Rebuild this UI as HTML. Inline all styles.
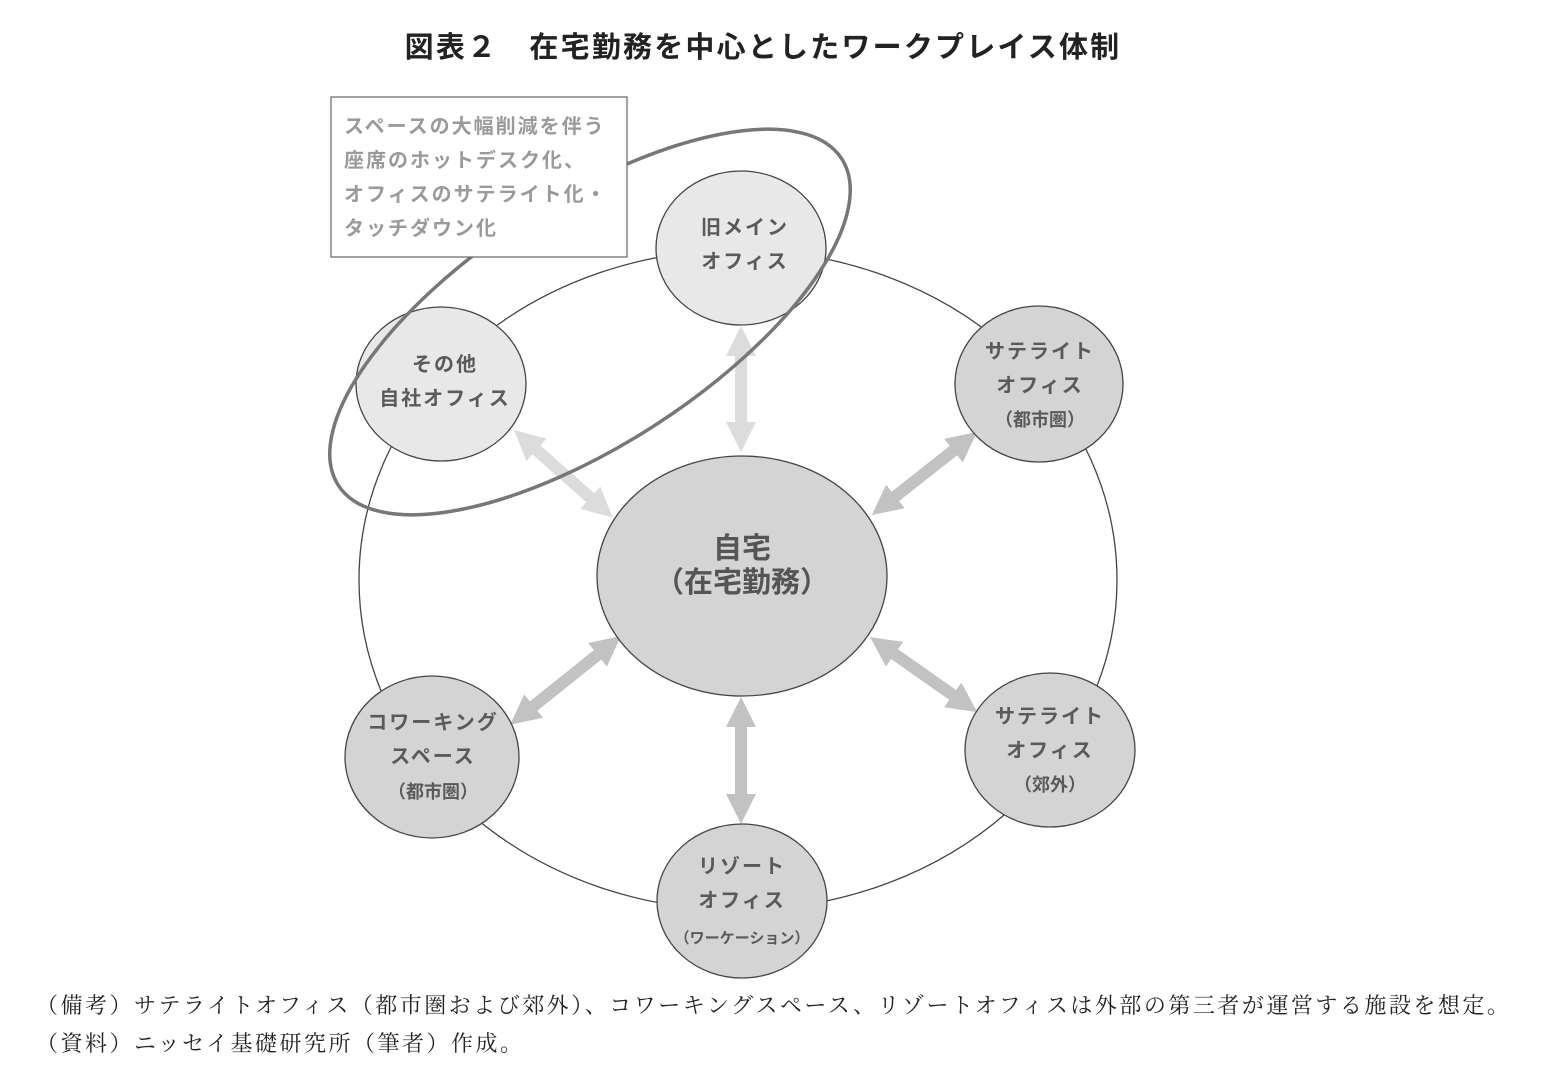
<!DOCTYPE html>
<html><head><meta charset="utf-8"><style>
html,body{margin:0;padding:0;background:#fff;}
svg{display:block;}
text{font-family:"Liberation Sans","Noto Sans CJK JP",sans-serif;}
.n{font-size:20px;font-weight:bold;fill:#5a5a5a;text-anchor:middle;letter-spacing:2px;}
.s{font-size:18px;font-weight:bold;fill:#5a5a5a;text-anchor:middle;}
.b{font-size:20px;font-weight:bold;fill:#9a9a9a;letter-spacing:2px;}
.f{font-family:"Liberation Serif","Noto Serif CJK JP",serif;font-size:22px;fill:#222;letter-spacing:2.5px;}
</style></head><body>
<svg width="1543" height="1087" viewBox="0 0 1543 1087" xmlns="http://www.w3.org/2000/svg">
<text x="763" y="57" text-anchor="middle" style="font-size:29px;font-weight:bold;fill:#222;letter-spacing:2.2px">図表２　在宅勤務を中心としたワークプレイス体制</text>

<ellipse cx="738" cy="580" rx="379" ry="330" fill="none" stroke="#444" stroke-width="1.3"/>

<g fill="#dcdcdc">
<polygon transform="translate(741,326) rotate(90)" points="0,0 30,-15 30,-6 96,-6 96,-15 126,0 96,15 96,6 30,6 30,15"/>
<polygon transform="translate(514,430) rotate(41.6)" points="0,0 30,-15 30,-6 102,-6 102,-15 132,0 102,15 102,6 30,6 30,15"/>
</g>
<g fill="#c2c2c2">
<polygon transform="translate(977,432) rotate(141.7)" points="0,0 30,-15 30,-6 104,-6 104,-15 134,0 104,15 104,6 30,6 30,15"/>
<polygon transform="translate(621,636) rotate(141.3)" points="0,0 30,-15 30,-6 112,-6 112,-15 142,0 112,15 112,6 30,6 30,15"/>
<polygon transform="translate(870,637) rotate(35)" points="0,0 30,-15 30,-6 101,-6 101,-15 131,0 101,15 101,6 30,6 30,15"/>
<polygon transform="translate(741,697) rotate(90)" points="0,0 30,-15 30,-6 97,-6 97,-15 127,0 97,15 97,6 30,6 30,15"/>
</g>

<g stroke="#444" stroke-width="1.3">
<ellipse cx="741" cy="248" rx="85" ry="77" fill="#e8e8e8"/>
<ellipse cx="441" cy="384" rx="85" ry="77" fill="#e8e8e8"/>
<ellipse cx="1039" cy="384" rx="84" ry="78" fill="#d4d4d4"/>
<ellipse cx="742" cy="576" rx="145" ry="120" fill="#d4d4d4"/>
<ellipse cx="432" cy="757" rx="87" ry="81" fill="#d4d4d4"/>
<ellipse cx="1050" cy="750" rx="85" ry="77" fill="#d4d4d4"/>
<ellipse cx="742" cy="901" rx="85" ry="77" fill="#d4d4d4"/>
</g>

<ellipse cx="590" cy="322" rx="300" ry="122" transform="rotate(-33 590 322)" fill="none" stroke="#777" stroke-width="3.5"/>

<rect x="331" y="97" width="296" height="160" fill="#fff" stroke="#666" stroke-width="1.2"/>
<text class="b" x="344" y="133">スペースの大幅削減を伴う</text>
<text class="b" x="344" y="167">座席のホットデスク化、</text>
<text class="b" x="344" y="201">オフィスのサテライト化・</text>
<text class="b" x="344" y="235">タッチダウン化</text>

<text class="n" x="745" y="234">旧メイン</text>
<text class="n" x="745" y="268">オフィス</text>
<text class="n" x="445" y="371">その他</text>
<text class="n" x="445" y="405">自社オフィス</text>
<text class="n" x="1040" y="358">サテライト</text>
<text class="n" x="1040" y="392">オフィス</text>
<text class="s" x="1040" y="426">（都市圏）</text>
<text x="742" y="558" text-anchor="middle" style="font-size:29px;font-weight:bold;fill:#555">自宅</text>
<text x="742" y="592" text-anchor="middle" style="font-size:29px;font-weight:bold;fill:#555">（在宅勤務）</text>
<text class="n" x="433" y="729">コワーキング</text>
<text class="n" x="433" y="763">スペース</text>
<text class="s" x="433" y="798">（都市圏）</text>
<text class="n" x="1050" y="723">サテライト</text>
<text class="n" x="1050" y="757">オフィス</text>
<text class="s" x="1050" y="791">（郊外）</text>
<text class="n" x="742" y="873">リゾート</text>
<text class="n" x="742" y="907">オフィス</text>
<text x="742" y="943" text-anchor="middle" style="font-size:15px;font-weight:bold;fill:#5a5a5a">（ワーケーション）</text>

<text class="f" x="36" y="1013">（備考）サテライトオフィス（都市圏および郊外）、コワーキングスペース、リゾートオフィスは外部の第三者が運営する施設を想定。</text>
<text class="f" x="36" y="1051">（資料）ニッセイ基礎研究所（筆者）作成。</text>
</svg>
</body></html>
